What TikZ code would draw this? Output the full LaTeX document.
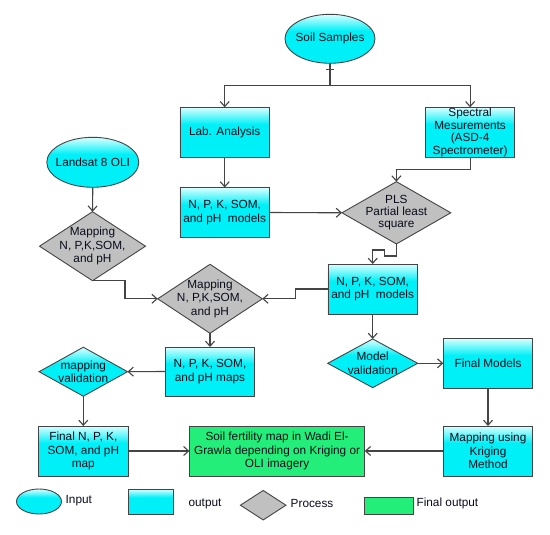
\documentclass[tikz,border=0pt]{standalone}
\usepackage{fontspec}
\setmainfont{Liberation Sans}
\usetikzlibrary{shapes.geometric,arrows.meta}
\definecolor{cyF}{RGB}{0,240,248}
\definecolor{cyL}{RGB}{218,255,255}
\definecolor{grF}{RGB}{192,192,192}
\definecolor{gnF}{RGB}{36,238,122}
\definecolor{edgec}{RGB}{68,68,68}
\definecolor{txtc}{RGB}{10,12,28}
\pgfdeclareverticalshading{cyshade}{100bp}{color(0bp)=(cyF); color(58bp)=(cyF); color(75bp)=(cyL); color(100bp)=(cyL)}
\begin{document}
\begin{tikzpicture}[x=1pt,y=-1pt,
  font=\fontsize{11.8}{13.3}\selectfont,
  base/.style={draw=edgec, line width=0.9pt, inner sep=0pt, outer sep=0pt},
  cybox/.style={base, rectangle, shading=cyshade, minimum width=89.5pt, minimum height=50pt},
  gnbox/.style={base, rectangle, fill=gnF, minimum width=175.4pt, minimum height=50pt},
  cyell/.style={base, ellipse, shading=cyshade},
  grdia/.style={base, diamond, fill=grF},
  cydia/.style={base, diamond, shading=cyshade},
  lbl/.style={align=center, text=txtc, inner sep=0pt},
  legtxt/.style={anchor=west, text=txtc, inner sep=0pt},
  ln/.style={draw=edgec, line width=1.1pt},
  arr/.style={ln, -{Straight Barb[length=5pt,width=9pt]}}]
\useasboundingbox[fill=white] (0,0) rectangle (550,535);

% inputs
\node[cyell, minimum width=90pt, minimum height=49pt, label={[lbl]center:Soil Samples}] (ss) at (330,38.8) {};
\node[cyell, minimum width=92pt, minimum height=50pt, label={[lbl]center:Landsat 8 OLI}] (ls) at (92.8,162.3) {};

% top row
\node[cybox, label={[lbl]center:Lab. Analysis}] (lab) at (224.7,132.3) {};
\node[cybox, label={[lbl,font=\fontsize{11.8}{12.6}\selectfont]center:Spectral\\Mesurements\\(ASD-4\\Spectrometer)}] (spec) at (470.1,132.3) {};

% second row
\node[cybox, label={[lbl]center:N, P, K, SOM,\\and pH\ \ models}] (m1) at (224.7,212.5) {};
\node[grdia, minimum width=108.8pt, minimum height=62.3pt, label={[lbl,font=\fontsize{11.8}{12.2}\selectfont]center:PLS\\Partial least\\square}] (pls) at (396.4,212.8) {};
\node[grdia, minimum width=106pt, minimum height=69pt, label={[lbl]center:Mapping\\N, P,K,SOM,\\and pH}] (d1) at (92.5,246.2) {};

% third row
\node[cybox, label={[lbl]center:N, P, K, SOM,\\and pH\ \ models}] (m2) at (372.7,289) {};
\node[grdia, minimum width=104.6pt, minimum height=69pt, label={[lbl]center:Mapping\\N, P,K,SOM,\\and pH}] (d2) at (210,298.8) {};

% fourth row
\node[cybox, minimum height=49pt, label={[lbl]center:N, P, K, SOM,\\and pH maps}] (maps) at (210,371.5) {};
\node[cydia, minimum width=88.5pt, minimum height=49pt, label={[lbl]center:mapping\\validation}] (mval) at (83.3,371.7) {};
\node[cydia, minimum width=90pt, minimum height=48.7pt, label={[lbl]center:Model\\validation}] (mv) at (372.7,363.3) {};
\node[cybox, label={[lbl]center:Final Models}] (fm) at (488,363.3) {};

% bottom row
\node[cybox, label={[lbl]center:Final N, P, K,\\SOM, and pH\\map}] (fn) at (83.3,451) {};
\node[gnbox, label={[lbl]center:Soil fertility map in Wadi El-\\Grawla depending on Kriging or\\OLI imagery}] (fert) at (277.1,451) {};
\node[cybox, label={[lbl]center:Mapping using\\Kriging\\Method}] (kr) at (488,451) {};

% connectors
\coordinate (split) at (330,85.7);
\draw[ln] (ss.south) -- (split);
\draw[ln] (330,69.5) ++(-4,0) -- ++(8,0);
\draw[arr] (split) -| (lab.north);
\draw[arr] (split) -| (spec.north);
\draw[arr] (spec.south) |- (396.4,169.3) -- (pls.north);
\draw[arr] (lab.south) -- (m1.north);
\draw[arr] (m1.east) -- (pls.west);
\draw[arr] (pls.south) -- (396.4,256) -- (384.8,256) -- (384.8,250) -- (372.7,250) -- (m2.north);
\draw[arr] (ls.south) -- (d1.north);
\draw[arr] (d1.south) -- (125,280.7) -- (125,298.8) -- (d2.west);
\draw[arr] (m2.west) -- (295.8,289) -- (295.8,298.8) -- (d2.east);
\draw[arr] (d2.south) -- (maps.north);
\draw[arr] (m2.south) -- (mv.north);
\draw[arr] (maps.west) -- (mval.east);
\draw[arr] (mv.east) -- (fm.west);
\draw[arr] (mval.south) -- (fn.north);
\draw[arr] (fm.south) -- (kr.north);
\draw[arr] (fn.east) -- (fert.west);
\draw[arr] (kr.west) -- (fert.east);

% legend
\node[cyell, minimum width=45pt, minimum height=25pt] (lgin) at (39,501.5) {};
\node[legtxt] (lgint) at (65.5,500.5) {Input};
\node[cybox, minimum width=45pt, minimum height=25pt] (lgout) at (150.7,501.5) {};
\node[legtxt] (lgoutt) at (188.4,504) {output};
\node[grdia, minimum width=45.5pt, minimum height=29.5pt] (lgpr) at (263.2,505.2) {};
\node[legtxt] (lgprt) at (290.5,503) {Process};
\node[gnbox, minimum width=48.8pt, minimum height=17pt] (lgfo) at (389,505.5) {};
\node[legtxt] (lgfot) at (416.4,503) {Final output};
\end{tikzpicture}
\end{document}
